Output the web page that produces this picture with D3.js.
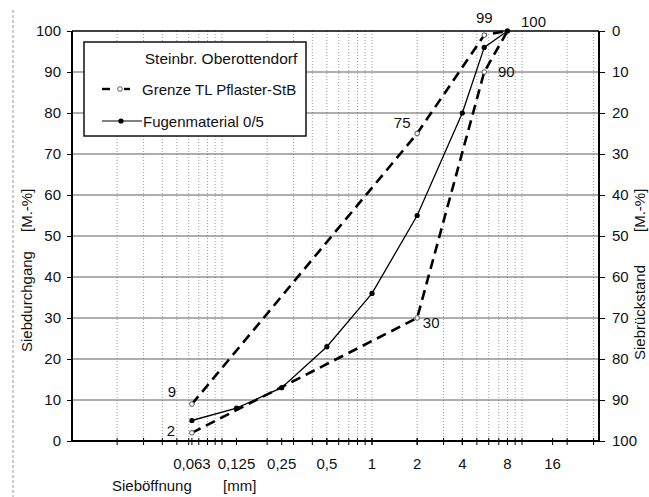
<!DOCTYPE html>
<html><head><meta charset="utf-8">
<script src="https://cdn.jsdelivr.net/npm/d3@7"></script>
<style>
body{margin:0;background:#fff;}
svg{display:block;font-family:"Liberation Sans",Arial,sans-serif;}
</style></head>
<body><svg id="c" width="649" height="497"></svg>
<script>
// ---- data ----
const xTickValues = [0.063, 0.125, 0.25, 0.5, 1, 2, 4, 8, 16];
const xTickLabels = ["0,063", "0,125", "0,25", "0,5", "1", "2", "4", "8", "16"];
const yTicksLeft = [0, 10, 20, 30, 40, 50, 60, 70, 80, 90, 100];
const yTicksRight = [0, 10, 20, 30, 40, 50, 60, 70, 80, 90, 100];
// Grenze TL Pflaster-StB (closed envelope: upper limit then lower limit)
const grenzeSieve = [0.063, 2, 5.6, 8, 5.6, 2, 0.063];
const grenzePass  = [9, 75, 99, 100, 90, 30, 2];
// Fugenmaterial 0/5
const fugenSieve = [0.063, 0.125, 0.25, 0.5, 1, 2, 4, 5.6, 8];
const fugenPass  = [5, 8, 13, 23, 36, 55, 80, 96, 100];
const legendTitle = "Steinbr. Oberottendorf";
const seriesNames = ["Grenze TL Pflaster-StB", "Fugenmaterial 0/5"];

// ---- layout ----
const L = 72, R = 599, T = 31, B = 441;
const FS = 15;
const svg = d3.select("#c");
const x = d3.scaleLog().domain([0.01, 32.6]).range([L, R]);
const y = d3.scaleLinear().domain([0, 100]).range([B, T]);
const yR = d3.scaleLinear().domain([0, 100]).range([T, B]);

// far-left page border (dashed)
svg.append("line").attr("x1", 13).attr("x2", 13).attr("y1", 10).attr("y2", 497)
  .attr("stroke", "#999").attr("stroke-dasharray", "3,2").attr("stroke-width", 1);

// minor vertical gridlines (log decades)
const minor = [];
[0.01, 0.1, 1, 10].forEach(d => { for (let k = 1; k <= 9; k++) { const v = d * k; if (v > 0.01 && v < 32.6) minor.push(v); } });
svg.append("g").selectAll("line").data(minor).join("line")
  .attr("x1", d => x(d)).attr("x2", d => x(d)).attr("y1", T).attr("y2", B)
  .attr("stroke", "#9a9a9a").attr("stroke-width", 1).attr("stroke-dasharray", "1,2");

// horizontal gridlines
svg.append("g").selectAll("line").data(yTicksLeft.filter(v => v > 0 && v < 100)).join("line")
  .attr("x1", L).attr("x2", R).attr("y1", d => y(d)).attr("y2", d => y(d))
  .attr("stroke", "#5e5e5e").attr("stroke-width", 1);

// x-axis ticks (minor + labelled)
svg.append("g").selectAll("line").data(minor.concat(xTickValues)).join("line")
  .attr("x1", d => x(d)).attr("x2", d => x(d)).attr("y1", B - 3).attr("y2", B + 4)
  .attr("stroke", "#000").attr("stroke-width", 1);

// frame
svg.append("line").attr("x1", L).attr("x2", R).attr("y1", T).attr("y2", T).attr("stroke", "#000").attr("stroke-width", 1.5);
svg.append("line").attr("x1", L).attr("x2", R + 1).attr("y1", B).attr("y2", B).attr("stroke", "#000").attr("stroke-width", 2);
svg.append("line").attr("x1", L).attr("x2", L).attr("y1", T).attr("y2", B + 1).attr("stroke", "#000").attr("stroke-width", 2);
svg.append("line").attr("x1", R).attr("x2", R).attr("y1", T).attr("y2", B + 1).attr("stroke", "#000").attr("stroke-width", 2);

// left axis
const gl = svg.append("g").attr("transform", `translate(${L},0)`)
  .call(d3.axisLeft(y).tickValues(yTicksLeft).tickSize(5).tickPadding(6).tickFormat(d => d));
gl.select(".domain").remove();
gl.selectAll("text").attr("font-size", FS).attr("fill", "#111").attr("font-family", "Liberation Sans, Arial, sans-serif");
gl.selectAll("line").attr("stroke", "#000");

// right axis
const gr = svg.append("g").attr("transform", `translate(${R},0)`)
  .call(d3.axisRight(yR).tickValues(yTicksRight).tickSize(6).tickPadding(7).tickFormat(d => d));
gr.select(".domain").remove();
gr.selectAll("text").attr("font-size", FS).attr("fill", "#111").attr("font-family", "Liberation Sans, Arial, sans-serif");
gr.selectAll("line").attr("stroke", "#000");

// x tick labels
svg.append("g").selectAll("text").data(xTickValues).join("text")
  .attr("x", d => x(d)).attr("y", 469).attr("text-anchor", "middle")
  .attr("font-size", FS).attr("fill", "#111").text((d, i) => xTickLabels[i]);

// axis titles
svg.append("text").attr("x", 112).attr("y", 491).attr("font-size", FS).attr("fill", "#111").text("Sieböffnung");
svg.append("text").attr("x", 223).attr("y", 491).attr("font-size", FS).attr("fill", "#111").text("[mm]");
svg.append("text").attr("transform", "translate(32,352) rotate(-90)").attr("font-size", FS).attr("fill", "#111").text("Siebdurchgang");
svg.append("text").attr("transform", "translate(32,232) rotate(-90)").attr("font-size", FS).attr("fill", "#111").text("[M.-%]");
svg.append("text").attr("transform", "translate(645,360) rotate(-90)").attr("font-size", FS).attr("fill", "#111").text("Siebrückstand");
svg.append("text").attr("transform", "translate(645,232) rotate(-90)").attr("font-size", FS).attr("fill", "#111").text("[M.-%]");

// series
const line = d3.line().x(d => x(d[0])).y(d => y(d[1]));
const grenze = grenzeSieve.map((s, i) => [s, grenzePass[i]]);
const fugen = fugenSieve.map((s, i) => [s, fugenPass[i]]);

svg.append("path").attr("d", line(grenze)).attr("fill", "none").attr("stroke", "#000")
  .attr("stroke-width", 2.6).attr("stroke-dasharray", "10,6");
svg.append("path").attr("d", line(fugen)).attr("fill", "none").attr("stroke", "#000").attr("stroke-width", 1.3);

svg.append("g").selectAll("circle").data(grenze).join("circle")
  .attr("cx", d => x(d[0])).attr("cy", d => y(d[1])).attr("r", 2.3)
  .attr("fill", "#fff").attr("stroke", "#555").attr("stroke-width", 1);
svg.append("g").selectAll("circle").data(fugen).join("circle")
  .attr("cx", d => x(d[0])).attr("cy", d => y(d[1])).attr("r", 2.6).attr("fill", "#000");

// data labels for Grenze
const labelOffsets = [[-20, -12], [-15, -11], [0, -17], [26, -9], [22, 0], [14, 5], [-21, -2]];
svg.append("g").selectAll("text").data(grenze).join("text")
  .attr("x", (d, i) => x(d[0]) + labelOffsets[i][0])
  .attr("y", (d, i) => y(d[1]) + labelOffsets[i][1] + 5)
  .attr("text-anchor", "middle").attr("font-size", FS).attr("fill", "#111")
  .text(d => d[1]);

// legend
const lg = svg.append("g");
lg.append("rect").attr("x", 84).attr("y", 42).attr("width", 222).attr("height", 94)
  .attr("fill", "#fff").attr("stroke", "#111").attr("stroke-width", 1.5);
lg.append("text").attr("x", 221).attr("y", 64).attr("text-anchor", "middle").attr("font-size", 15.5).attr("fill", "#111").text(legendTitle);
lg.append("line").attr("x1", 102).attr("x2", 110).attr("y1", 89).attr("y2", 89).attr("stroke", "#000").attr("stroke-width", 2.4);
lg.append("line").attr("x1", 124).attr("x2", 130).attr("y1", 89).attr("y2", 89).attr("stroke", "#000").attr("stroke-width", 2.4);
lg.append("circle").attr("cx", 120).attr("cy", 89).attr("r", 2.3).attr("fill", "#fff").attr("stroke", "#555");
lg.append("text").attr("x", 142).attr("y", 95).attr("font-size", FS).attr("fill", "#111").text(seriesNames[0]);
lg.append("line").attr("x1", 102).attr("x2", 142).attr("y1", 121).attr("y2", 121).attr("stroke", "#000").attr("stroke-width", 1.2);
lg.append("circle").attr("cx", 121).attr("cy", 121).attr("r", 2.6).attr("fill", "#000");
lg.append("text").attr("x", 143).attr("y", 127).attr("font-size", FS).attr("fill", "#111").text(seriesNames[1]);
</script></body></html>
